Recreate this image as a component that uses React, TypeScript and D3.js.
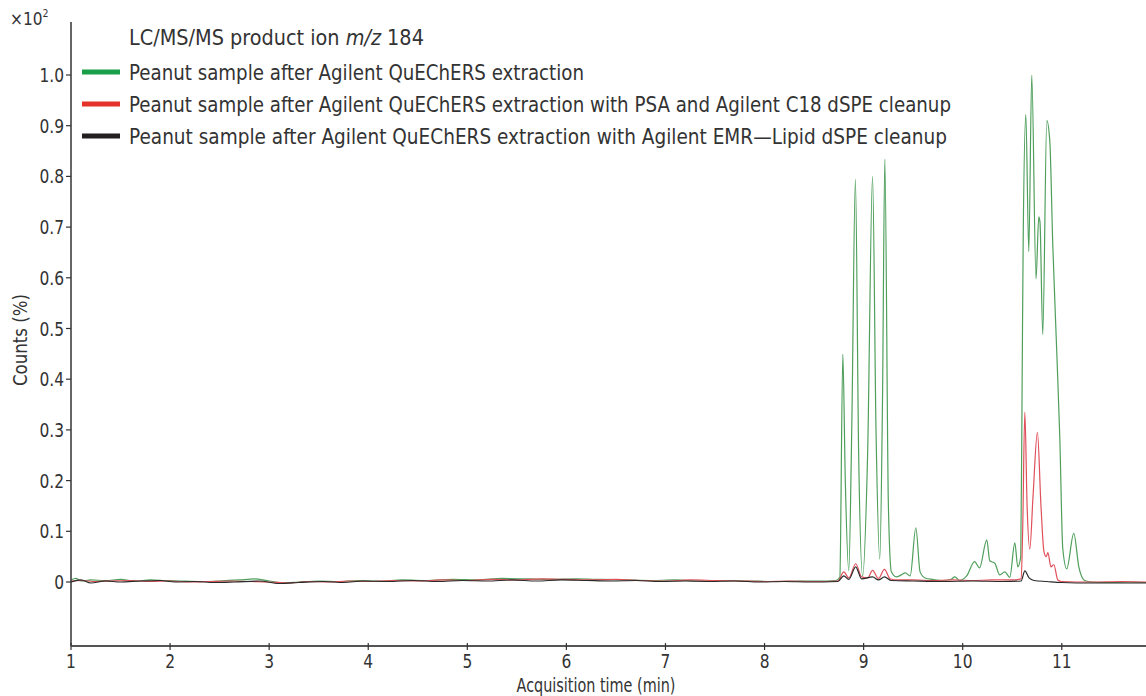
import React, { useEffect, useRef } from 'react';
import * as d3 from 'd3';

// [time (min), counts (x10^2 %)]
const greenTrace: [number, number][] = [
  [1.0, 0.004], [1.05, 0.007], [1.1, 0.002], [1.2, 0.004], [1.35, 0.003], [1.5, 0.005], [1.65, 0.002],
  [1.8, 0.004], [1.95, 0.003], [2.1, 0.002], [2.3, 0.001], [2.5, 0.002], [2.7, 0.004], [2.85, 0.006],
  [3.0, 0.002], [3.15, -0.002], [3.3, 0.0], [3.5, 0.002], [3.7, 0.001], [3.9, 0.003], [4.1, 0.002],
  [4.35, 0.004], [4.6, 0.003], [4.85, 0.005], [5.1, 0.004], [5.35, 0.007], [5.6, 0.006], [5.85, 0.005],
  [6.1, 0.006], [6.35, 0.005], [6.6, 0.004], [6.85, 0.003], [7.1, 0.004], [7.35, 0.002], [7.6, 0.003],
  [7.85, 0.002], [8.1, 0.001], [8.35, 0.002], [8.55, 0.002], [8.72, 0.003], [8.76, 0.01], [8.79, 0.449],
  [8.815, 0.2], [8.85, 0.022], [8.88, 0.3], [8.917, 0.794], [8.95, 0.25], [8.99, 0.012], [9.04, 0.25],
  [9.09, 0.8], [9.125, 0.3], [9.163, 0.045], [9.19, 0.35], [9.214, 0.834], [9.25, 0.15], [9.28, 0.02],
  [9.33, 0.01], [9.38, 0.014], [9.42, 0.018], [9.47, 0.012], [9.527, 0.107], [9.57, 0.02], [9.62, 0.008],
  [9.7, 0.005], [9.8, 0.003], [9.88, 0.005], [9.92, 0.01], [9.97, 0.003], [10.04, 0.012], [10.12, 0.04],
  [10.17, 0.028], [10.243, 0.083], [10.273, 0.042], [10.324, 0.037], [10.374, 0.014], [10.425, 0.02],
  [10.475, 0.009], [10.526, 0.077], [10.556, 0.03], [10.586, 0.05], [10.6, 0.4], [10.61, 0.665],
  [10.637, 0.922], [10.667, 0.652], [10.697, 1.0], [10.74, 0.598], [10.768, 0.72], [10.78, 0.71],
  [10.808, 0.488], [10.849, 0.91], [10.879, 0.87], [10.909, 0.666], [10.95, 0.45], [10.98, 0.285],
  [11.01, 0.066], [11.05, 0.026], [11.121, 0.096], [11.172, 0.03], [11.232, 0.003], [11.3, 0.0],
  [11.5, -0.001], [11.7, 0.0], [11.85, -0.001],
];

const redTrace: [number, number][] = [
  [1.0, 0.002], [1.1, 0.003], [1.25, 0.001], [1.4, 0.002], [1.6, 0.003], [1.8, 0.001], [2.0, 0.002],
  [2.2, 0.0], [2.4, 0.001], [2.6, 0.002], [2.8, 0.001], [3.0, 0.0], [3.2, -0.002], [3.4, 0.001],
  [3.6, 0.0], [3.8, 0.002], [4.0, 0.001], [4.25, 0.003], [4.5, 0.002], [4.75, 0.004], [5.0, 0.003],
  [5.25, 0.005], [5.5, 0.004], [5.75, 0.006], [6.0, 0.005], [6.25, 0.004], [6.5, 0.005], [6.75, 0.003],
  [7.0, 0.002], [7.25, 0.004], [7.5, 0.003], [7.75, 0.002], [8.0, 0.001], [8.25, 0.002], [8.5, 0.001],
  [8.74, 0.002], [8.8, 0.02], [8.85, 0.008], [8.92, 0.036], [8.98, 0.01], [9.04, 0.008], [9.09, 0.023],
  [9.15, 0.007], [9.21, 0.025], [9.27, 0.006], [9.35, 0.004], [9.5, 0.004], [9.7, 0.003], [9.9, 0.004],
  [10.1, 0.003], [10.3, 0.004], [10.5, 0.004], [10.59, 0.006], [10.605, 0.1], [10.627, 0.335],
  [10.65, 0.15], [10.677, 0.065], [10.71, 0.17], [10.754, 0.295], [10.79, 0.15], [10.82, 0.06],
  [10.843, 0.05], [10.86, 0.058], [10.89, 0.03], [10.92, 0.034], [10.96, 0.004], [11.0, 0.001],
  [11.3, 0.0], [11.6, 0.001], [11.85, 0.0],
];

const blackTrace: [number, number][] = [
  [1.0, 0.0], [1.1, 0.004], [1.2, -0.002], [1.35, 0.002], [1.5, 0.0], [1.7, 0.002], [1.9, 0.003],
  [2.05, 0.0], [2.25, 0.001], [2.45, -0.001], [2.65, 0.0], [2.9, 0.002], [3.1, -0.003], [3.3, -0.001],
  [3.55, 0.001], [3.75, -0.001], [3.95, 0.002], [4.2, 0.001], [4.45, 0.003], [4.7, 0.001], [4.95, 0.003],
  [5.2, 0.002], [5.45, 0.004], [5.7, 0.002], [5.95, 0.004], [6.2, 0.003], [6.45, 0.002], [6.7, 0.003],
  [6.95, 0.001], [7.2, 0.002], [7.45, 0.001], [7.7, 0.002], [7.95, 0.0], [8.2, 0.001], [8.45, 0.0],
  [8.74, 0.001], [8.8, 0.012], [8.85, 0.005], [8.92, 0.03], [8.98, 0.006], [9.09, 0.01], [9.15, 0.004],
  [9.21, 0.01], [9.28, 0.003], [9.5, 0.002], [9.8, 0.001], [10.1, 0.002], [10.4, 0.001], [10.59, 0.002],
  [10.627, 0.022], [10.67, 0.008], [10.72, 0.003], [10.85, 0.001], [11.0, -0.001], [11.3, -0.002],
  [11.6, -0.002], [11.85, -0.002],
];

const xTicks = [1, 2, 3, 4, 5, 6, 7, 8, 9, 10, 11];
const yTicks = [0, 0.1, 0.2, 0.3, 0.4, 0.5, 0.6, 0.7, 0.8, 0.9, 1.0];

const legendLabels = [
  'Peanut sample after Agilent QuEChERS extraction',
  'Peanut sample after Agilent QuEChERS extraction with PSA and Agilent C18 dSPE cleanup',
  'Peanut sample after Agilent QuEChERS extraction with Agilent EMR\u2014Lipid dSPE cleanup',
];
const legendWidths = [455, 822, 818];
const swatchColors = ['#1b9e48', '#e4322b', '#231f20'];
const traceColors = ['#4f9f5c', '#e0505a', '#2a2a2a'];

const FONT = '"DejaVu Sans Condensed", "Liberation Sans", sans-serif';
const INK = '#333';

export default function App() {
  const ref = useRef<SVGSVGElement | null>(null);

  useEffect(() => {
    if (!ref.current) return;
    const svg = d3.select(ref.current);
    svg.selectAll('*').remove();

    const x = d3.scaleLinear().domain([1, 11.85]).range([71, 1146]);
    const y = d3.scaleLinear().domain([0, 1]).range([582, 75]);
    const axisY = 646;

    // text squeezed horizontally to look like the condensed face of the original
    const label = (tx: number, ty: number, size: number, anchor: string, txt: string, sq = 0.86) =>
      svg.append('text')
        .attr('transform', `translate(${tx},${ty}) scale(${sq},1)`)
        .attr('text-anchor', anchor)
        .attr('fill', INK)
        .style('font-family', FONT)
        .style('font-size', `${size}px`)
        .text(txt);

    // traces
    const line = d3.line<[number, number]>()
      .x(d => x(d[0]))
      .y(d => y(d[1]))
      .curve(d3.curveMonotoneX);

    [greenTrace, redTrace, blackTrace].forEach((trace, i) => {
      svg.append('path')
        .datum(trace)
        .attr('d', line)
        .attr('fill', 'none')
        .attr('stroke', traceColors[i])
        .attr('stroke-width', 1.2)
        .attr('stroke-linejoin', 'round');
    });

    // y axis
    svg.append('line')
      .attr('x1', 71).attr('x2', 71).attr('y1', 22).attr('y2', axisY)
      .attr('stroke', INK).attr('stroke-width', 1.5);
    yTicks.forEach(t => {
      svg.append('line')
        .attr('x1', 66).attr('x2', 71).attr('y1', y(t)).attr('y2', y(t))
        .attr('stroke', INK).attr('stroke-width', 1.2);
      label(64, y(t) + 7, 20, 'end', t === 0 ? '0' : d3.format('.1f')(t));
    });

    // x axis
    svg.append('line')
      .attr('x1', 71).attr('x2', 1146).attr('y1', axisY).attr('y2', axisY)
      .attr('stroke', '#555').attr('stroke-width', 2);
    xTicks.forEach(t => {
      svg.append('line')
        .attr('x1', x(t)).attr('x2', x(t)).attr('y1', axisY - 3).attr('y2', axisY + 4)
        .attr('stroke', INK).attr('stroke-width', 1.2);
      label(x(t), axisY + 22, 20, 'middle', String(t));
    });

    // axis titles
    label(596, 692, 20, 'middle', 'Acquisition time (min)', 0.8);

    svg.append('text')
      .attr('transform', 'translate(27,340) rotate(-90)')
      .attr('text-anchor', 'middle')
      .attr('fill', INK)
      .attr('textLength', 92)
      .attr('lengthAdjust', 'spacingAndGlyphs')
      .style('font-family', FONT).style('font-size', '20px')
      .text('Counts (%)');

    const mult = svg.append('text')
      .attr('transform', 'translate(10,25) scale(0.95,1)')
      .attr('fill', INK)
      .style('font-family', FONT).style('font-size', '18px');
    mult.append('tspan').text('\u00d710');
    mult.append('tspan').attr('dy', -8).style('font-size', '11px').text('2');

    // legend
    const title = svg.append('text')
      .attr('transform', 'translate(129,45) scale(1.02,1)')
      .attr('fill', INK)
      .style('font-family', FONT).style('font-size', '21px');
    title.append('tspan').text('LC/MS/MS product ion ');
    title.append('tspan').style('font-style', 'italic').text('m/z');
    title.append('tspan').text(' 184');

    legendLabels.forEach((txt, i) => {
      const cy = 72 + i * 32;
      svg.append('line')
        .attr('x1', 82).attr('x2', 120).attr('y1', cy).attr('y2', cy)
        .attr('stroke', swatchColors[i]).attr('stroke-width', 5);
      svg.append('text')
        .attr('x', 129).attr('y', cy + 7.5)
        .attr('fill', INK)
        .attr('textLength', legendWidths[i])
        .attr('lengthAdjust', 'spacingAndGlyphs')
        .style('font-family', FONT).style('font-size', '21px')
        .text(txt);
    });
  }, []);

  return (
    <svg
      ref={ref}
      width={1146}
      height={696}
      style={{ position: 'absolute', left: 0, top: 0, background: '#fff' }}
    />
  );
}
